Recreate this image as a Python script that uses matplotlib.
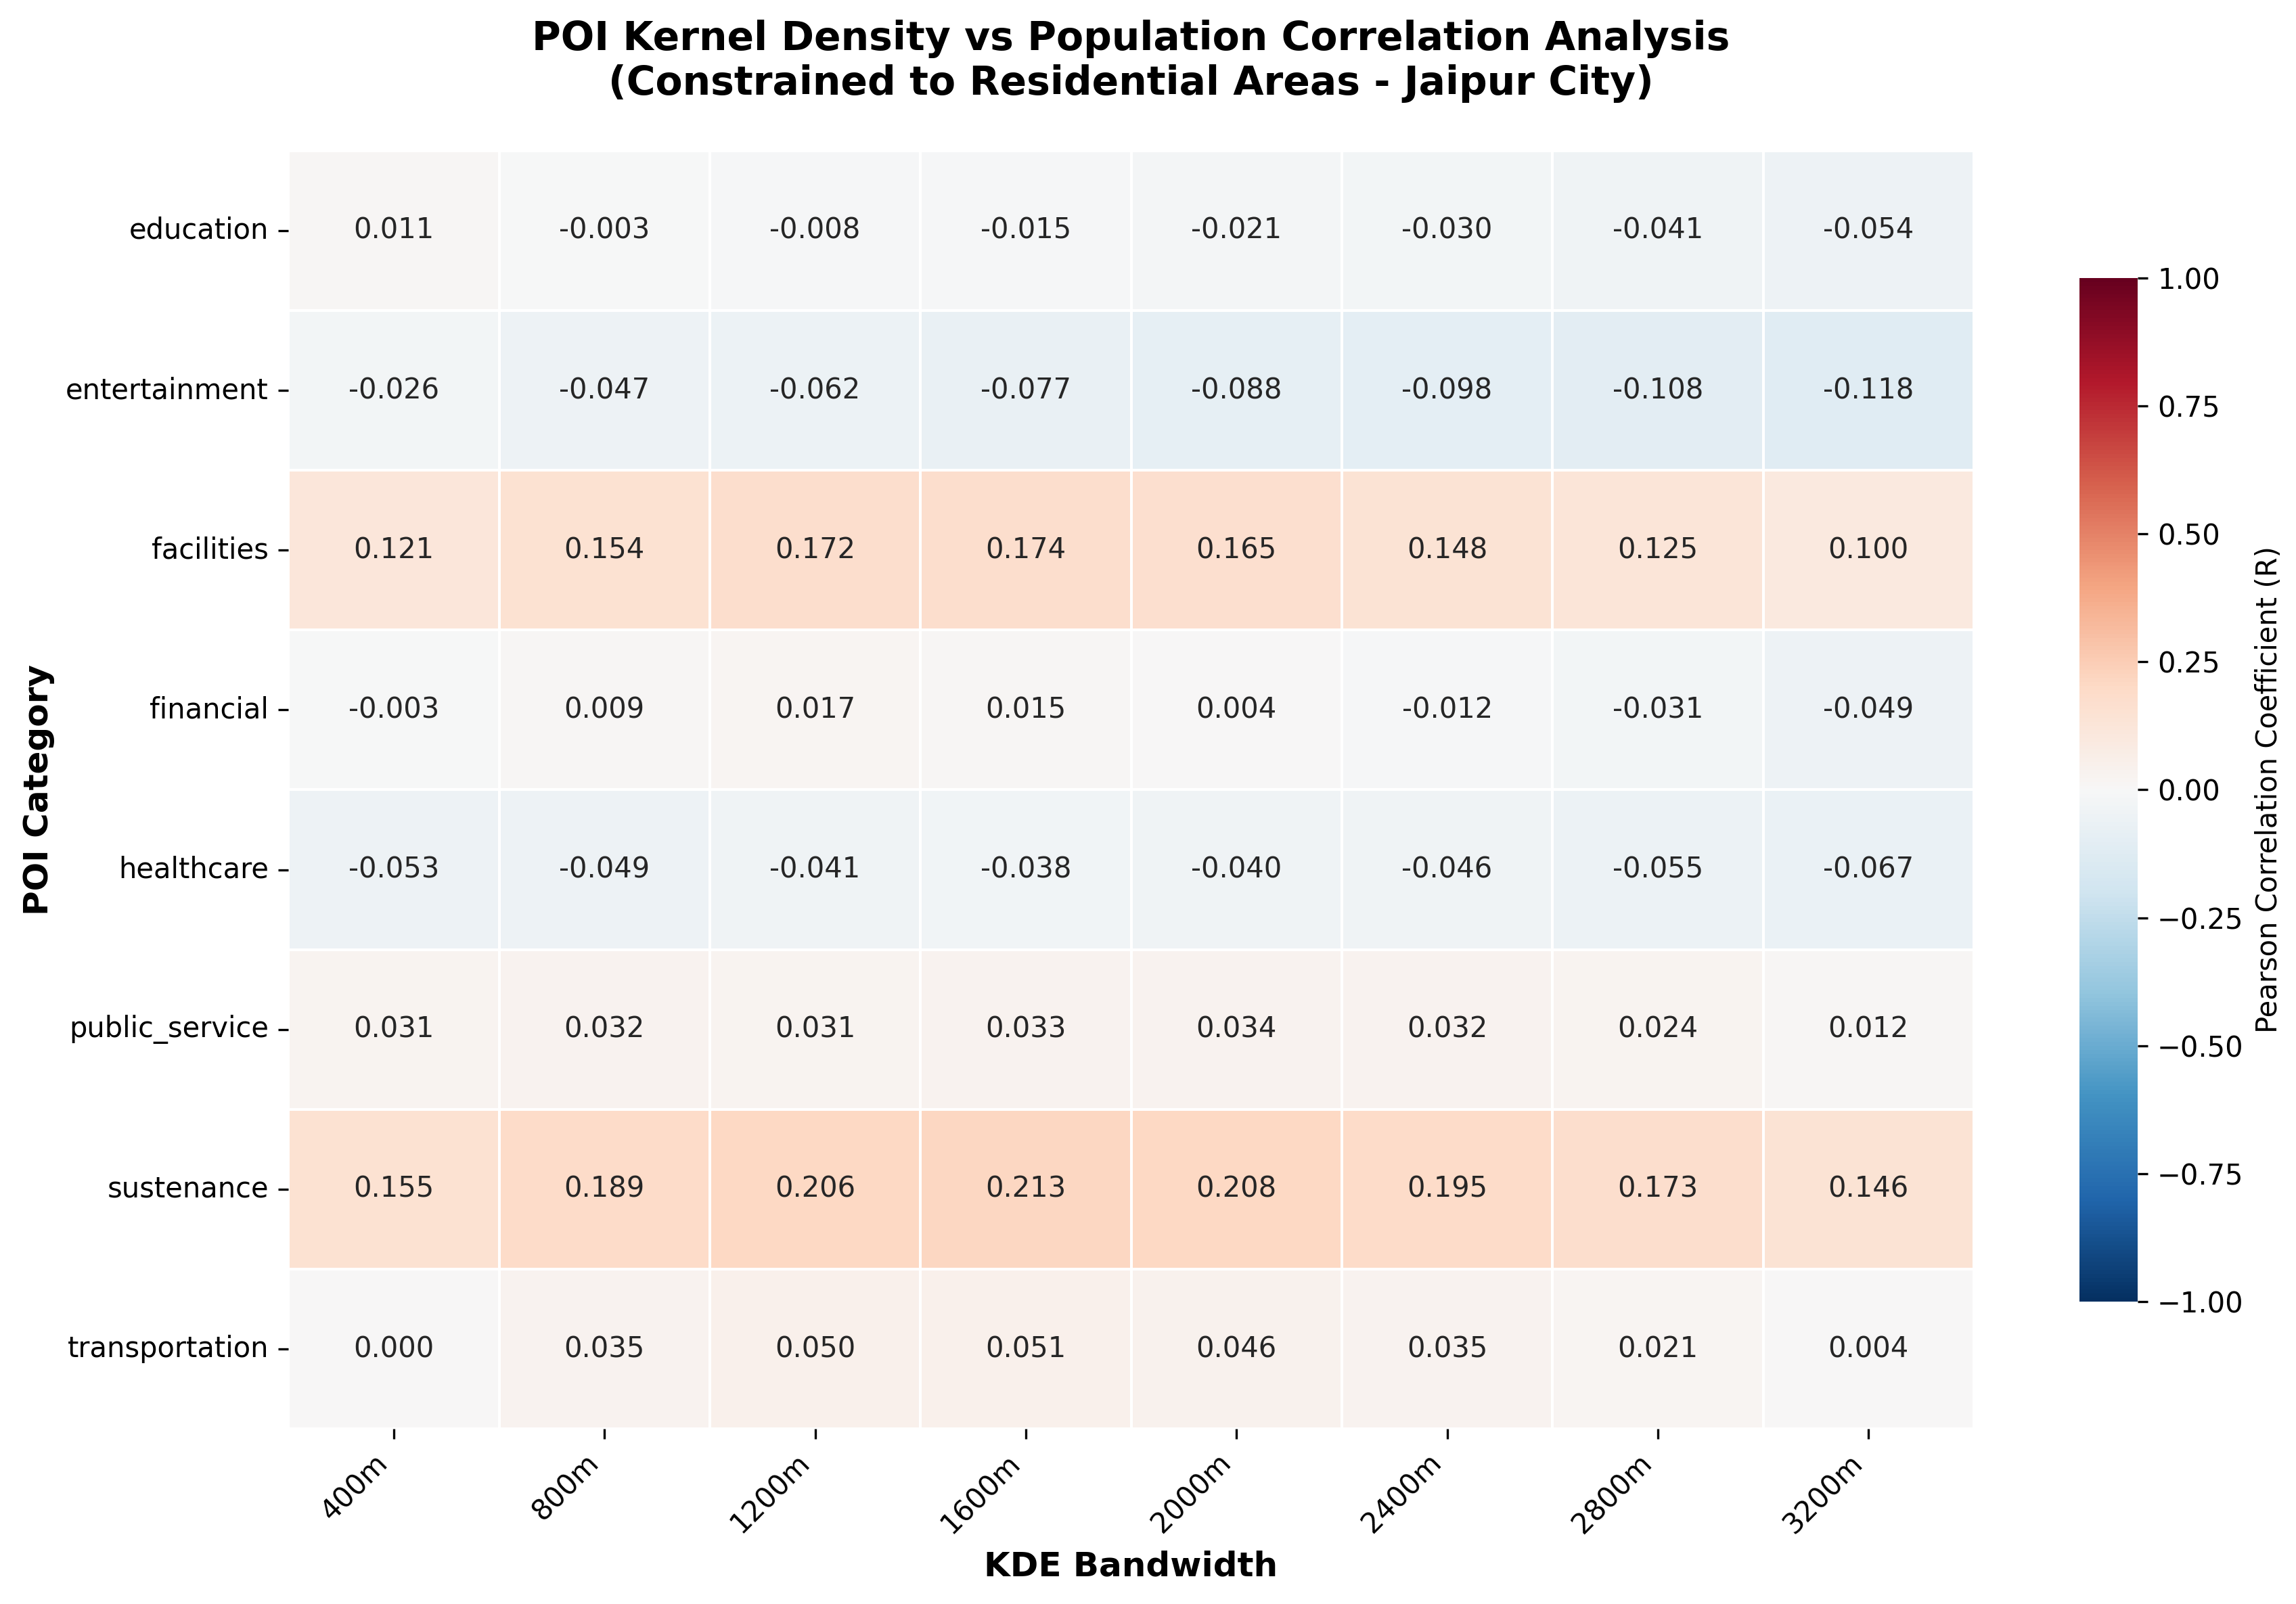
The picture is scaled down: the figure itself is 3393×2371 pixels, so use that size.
import numpy as np
import pandas as pd
import matplotlib
matplotlib.use("Agg")
import matplotlib.pyplot as plt
import seaborn as sns


categories = [
    "education",
    "entertainment",
    "facilities",
    "financial",
    "healthcare",
    "public_service",
    "sustenance",
    "transportation",
]

bandwidths = ["400m", "800m", "1200m", "1600m", "2000m", "2400m", "2800m", "3200m"]

education = [0.011, -0.003, -0.008, -0.015, -0.021, -0.030, -0.041, -0.054]
entertainment = [-0.026, -0.047, -0.062, -0.077, -0.088, -0.098, -0.108, -0.118]
facilities = [0.121, 0.154, 0.172, 0.174, 0.165, 0.148, 0.125, 0.100]
financial = [-0.003, 0.009, 0.017, 0.015, 0.004, -0.012, -0.031, -0.049]
healthcare = [-0.053, -0.049, -0.041, -0.038, -0.040, -0.046, -0.055, -0.067]
public_service = [0.031, 0.032, 0.031, 0.033, 0.034, 0.032, 0.024, 0.012]
sustenance = [0.155, 0.189, 0.206, 0.213, 0.208, 0.195, 0.173, 0.146]
transportation = [0.000, 0.035, 0.050, 0.051, 0.046, 0.035, 0.021, 0.004]


def main() -> None:
    corr = pd.DataFrame(
        [
            education,
            entertainment,
            facilities,
            financial,
            healthcare,
            public_service,
            sustenance,
            transportation,
        ],
        index=categories,
        columns=bandwidths,
    )

    fig = plt.figure(figsize=(3393 / 300, 2371 / 300), dpi=300)
    ax = fig.add_axes([0.1256, 0.1092, 0.7341, 0.7968])
    cax = fig.add_axes([0.9057, 0.1885, 0.0253, 0.6382])

    sns.heatmap(
        corr,
        ax=ax,
        cbar_ax=cax,
        cmap="RdBu_r",
        vmin=-1,
        vmax=1,
        center=0,
        annot=True,
        fmt=".3f",
        annot_kws={"fontsize": 10},
        linewidths=0.5,
        linecolor="white",
        cbar_kws={"label": "Pearson Correlation Coefficient (R)"},
    )

    ax.set_title(
        "POI Kernel Density vs Population Correlation Analysis\n"
        "(Constrained to Residential Areas - Jaipur City)",
        fontsize=14,
        fontweight="bold",
        pad=20,
    )
    ax.set_xlabel("KDE Bandwidth", fontsize=12, fontweight="bold")
    ax.set_ylabel("POI Category", fontsize=12, fontweight="bold")

    plt.setp(ax.get_xticklabels(), rotation=45, ha="right", fontsize=10)
    plt.setp(ax.get_yticklabels(), rotation=0, fontsize=10)

    cax.tick_params(labelsize=10)
    cax.yaxis.label.set_size(10)

    fig.savefig("out.png", dpi=300)
    plt.close(fig)


if __name__ == "__main__":
    main()
